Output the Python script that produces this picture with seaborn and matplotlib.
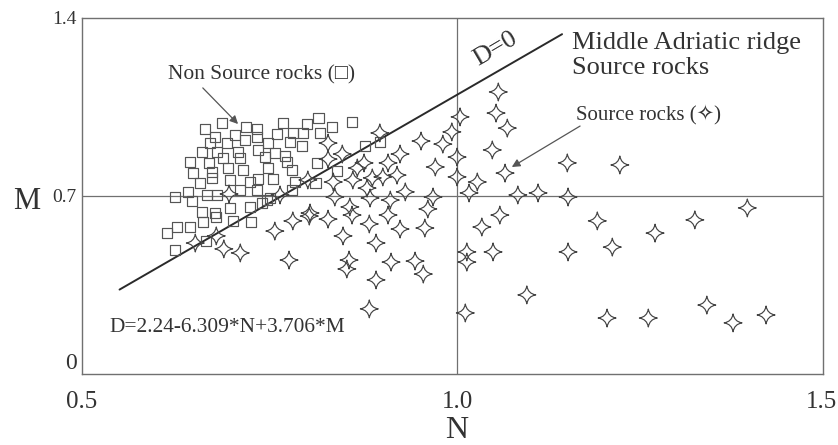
import numpy as np
import pandas as pd
import matplotlib
matplotlib.use("Agg")
import matplotlib.pyplot as plt
from matplotlib.path import Path
import seaborn as sns

# ---- data ----
nonsource_N = [0.687, 0.664, 0.719, 0.733, 0.768, 0.800, 0.815, 0.833, 0.860, 0.677,
               0.704, 0.671, 0.693, 0.717, 0.733, 0.748, 0.760, 0.781, 0.795, 0.817,
               0.777, 0.793, 0.877, 0.897, 0.660, 0.680, 0.708, 0.735, 0.757, 0.771,
               0.644, 0.669, 0.688, 0.711, 0.744, 0.773, 0.813, 0.648, 0.673, 0.695,
               0.715, 0.748, 0.780, 0.840, 0.657, 0.673, 0.697, 0.724, 0.735, 0.755,
               0.784, 0.811, 0.641, 0.667, 0.680, 0.711, 0.733, 0.780, 0.624, 0.647,
               0.751, 0.697, 0.724, 0.740, 0.660, 0.677, 0.661, 0.679, 0.701, 0.725,
               0.627, 0.644, 0.613, 0.624, 0.665, 0.747]
nonsource_M = [0.987, 0.963, 0.971, 0.963, 0.987, 0.983, 1.007, 0.971, 0.991, 0.932,
               0.940, 0.908, 0.908, 0.920, 0.932, 0.908, 0.944, 0.948, 0.948, 0.948,
               0.912, 0.897, 0.897, 0.912, 0.873, 0.873, 0.873, 0.881, 0.869, 0.857,
               0.834, 0.830, 0.849, 0.849, 0.853, 0.834, 0.830, 0.790, 0.794, 0.810,
               0.802, 0.810, 0.802, 0.798, 0.751, 0.771, 0.763, 0.755, 0.767, 0.767,
               0.755, 0.751, 0.716, 0.704, 0.704, 0.723, 0.723, 0.723, 0.696, 0.680,
               0.692, 0.653, 0.657, 0.672, 0.637, 0.633, 0.598, 0.617, 0.602, 0.598,
               0.578, 0.578, 0.554, 0.488, 0.523, 0.684]

source_N = [0.651, 0.679, 0.689, 0.711, 0.696, 0.757, 0.764, 0.781, 0.803, 0.828,
            0.860, 0.883, 0.908, 0.924, 0.848, 0.892, 0.776, 0.856, 0.853, 0.912,
            0.944, 0.892, 0.883, 0.801, 0.828, 0.847, 0.828, 0.876, 0.908, 0.867,
            0.920, 0.901, 0.887, 0.861, 0.835, 0.880, 0.837, 0.884, 0.911, 0.857,
            0.804, 0.897, 0.924, 0.931, 0.952, 0.981, 1.004, 0.993, 1.055, 1.052,
            1.067, 1.047, 1.000, 0.971, 1.064, 1.000, 1.027, 0.968, 1.016, 1.081,
            1.108, 0.961, 1.057, 0.957, 1.033, 0.955, 1.013, 1.013, 1.048, 1.011,
            1.093, 1.147, 1.217, 1.148, 1.187, 1.317, 1.387, 1.264, 1.148, 1.207,
            1.200, 1.255, 1.333, 1.368, 1.412]
source_M = [0.515, 0.543, 0.492, 0.476, 0.708, 0.562, 0.704, 0.602, 0.621, 0.609,
            0.625, 0.590, 0.625, 0.570, 0.543, 0.515, 0.448, 0.448, 0.413, 0.440,
            0.444, 0.370, 0.256, 0.763, 0.908, 0.865, 0.845, 0.830, 0.830, 0.810,
            0.782, 0.775, 0.771, 0.763, 0.755, 0.731, 0.696, 0.692, 0.684, 0.657,
            0.633, 0.948, 0.865, 0.716, 0.916, 0.904, 1.011, 0.952, 1.109, 1.026,
            0.967, 0.881, 0.853, 0.814, 0.790, 0.775, 0.755, 0.696, 0.712, 0.704,
            0.712, 0.649, 0.625, 0.574, 0.578, 0.393, 0.480, 0.440, 0.480, 0.240,
            0.311, 0.830, 0.822, 0.696, 0.602, 0.606, 0.653, 0.554, 0.480, 0.499,
            0.220, 0.220, 0.271, 0.201, 0.232]

# discriminant D = a + b*N + c*M
D_a, D_b, D_c = 2.24, -6.309, 3.706
line_N = [0.55, 1.14]

x_ticks = [0.5, 1.0]
x_tick_labels = ["0.5", "1.0"]
y_ticks = [0.0, 0.7, 1.4]
y_tick_labels = ["0", "0.7", "1.4"]

# ---- style ----
sns.set_theme(style="white")
plt.rcParams["font.family"] = ["Liberation Serif", "DejaVu Sans"]

INK = "#333333"
GRID = "#707070"

fig = plt.figure(figsize=(8.38, 4.45), dpi=100)
ax = fig.add_axes([0.0979, 0.1596, 0.8843, 0.8])

# four-point concave star marker
k = 0.14
star_verts = [(0, 1), (k, k), (1, 0), (k, -k), (0, -1), (-k, -k), (-1, 0), (-k, k), (0, 1), (0, 1)]
star_codes = [Path.MOVETO] + [Path.CURVE3] * 8 + [Path.CLOSEPOLY]
star = Path(star_verts, star_codes)

df_ns = pd.DataFrame({"N": nonsource_N, "M": nonsource_M})
df_s = pd.DataFrame({"N": source_N, "M": source_M})

sns.scatterplot(data=df_ns, x="N", y="M", ax=ax, marker="s", s=56,
                facecolor="none", edgecolor="#555555", linewidth=0.85, zorder=3)
sns.scatterplot(data=df_s, x="N", y="M", ax=ax, marker=star, s=165,
                facecolor="none", edgecolor="#444444", linewidth=0.85, zorder=3)

# reference lines
ax.axhline(0.7, color=GRID, lw=0.9, zorder=1)
ax.axvline(1.0, color=GRID, lw=0.9, zorder=1)

# discriminant line D = 0
ln = np.array(line_N)
lm = -(D_a + D_b * ln) / D_c
sns.lineplot(x=ln, y=lm, ax=ax, color="#2a2a2a", lw=1.4, zorder=2)

ax.set_xlim(0.5, 1.488)
ax.set_ylim(0, 1.4)
ax.set_xticks(x_ticks)
ax.set_xticklabels(x_tick_labels)
ax.set_yticks(y_ticks)
ax.set_yticklabels(y_tick_labels)
ax.tick_params(axis="x", length=0, pad=12, labelsize=18, labelcolor=INK)
ax.tick_params(axis="y", length=0, pad=4, labelsize=14, labelcolor=INK)
zero_lbl = ax.get_yticklabels()[0]
zero_lbl.set_fontsize(17)
zero_lbl.set_va("bottom")
ax.text(0.9975, -0.047, "1.5", transform=ax.transAxes, ha="center", va="top",
        fontsize=18, color=INK, clip_on=False)

for sp in ax.spines.values():
    sp.set_color(GRID)
    sp.set_linewidth(1.0)

ax.set_xlabel("N", fontsize=23, color=INK)
ax.set_ylabel("M", fontsize=22, color=INK, rotation=0)
ax.xaxis.set_label_coords(0.506, -0.118)
ax.yaxis.set_label_coords(-0.075, 0.485)
ax.yaxis.label.set_va("center")

# annotations
ax.text(1.153, 1.252, "Middle Adriatic ridge\nSource rocks", fontsize=19, color=INK,
        va="center", ha="left", linespacing=1.22)
ax.text(1.051, 1.278, "D=0", fontsize=19, color=INK, rotation=30.5, ha="center", va="center")

ax.text(0.739, 1.176, "Non Source rocks (\u25a1)", fontsize=15.5, color=INK, ha="center", va="center")
ax.annotate("", xy=(0.708, 0.983), xytext=(0.661, 1.125),
            arrowprops=dict(arrowstyle="-|>", color="#555555", lw=0.9,
                            shrinkA=0, shrinkB=0, mutation_scale=12))
ax.text(1.255, 1.018, "Source rocks (\u2727)", fontsize=15, color=INK, ha="center", va="center")
ax.annotate("", xy=(1.073, 0.814), xytext=(1.164, 0.975),
            arrowprops=dict(arrowstyle="-|>", color="#555555", lw=0.9,
                            shrinkA=0, shrinkB=0, mutation_scale=12))
ax.text(0.537, 0.181, "D=2.24-6.309*N+3.706*M", fontsize=15.4, color=INK, ha="left", va="center")

fig.savefig("out.png", dpi=100)
